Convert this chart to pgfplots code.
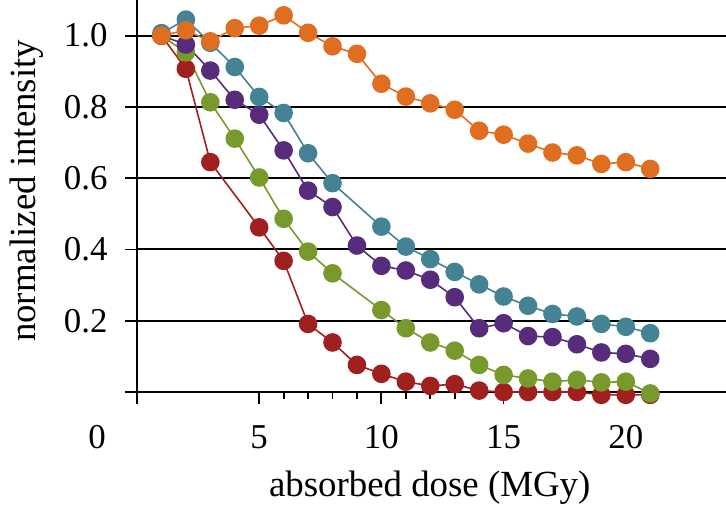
\documentclass[border=0pt]{standalone}
\usepackage{pgfplots}
\pgfplotsset{compat=1.18}
\usepackage{fontspec}
\setmainfont{Liberation Serif}
\definecolor{cred}{HTML}{A02020}
\definecolor{cgreen}{HTML}{78992C}
\definecolor{cpurple}{HTML}{582C7C}
\definecolor{cteal}{HTML}{438393}
\definecolor{corange}{HTML}{DF6E21}
\begin{document}
\begin{tikzpicture}
\begin{axis}[
  name=ax,
  scale only axis,
  width=589bp, height=392bp,
  xmin=0, xmax=24.1, ymin=0, ymax=1.1,
  axis lines=left,
  axis line style={line width=2bp, -},
  xtick={5,10,15,20},
  extra x ticks={0},
  extra x tick style={xticklabel style={xshift=-40bp}},
  minor x tick num=4,
  ytick={0,0.2,0.4,0.6,0.8,1.0},
  yticklabels={,0.2,0.4,0.6,0.8,1.0},
  /pgf/number format/assume math mode=true,
  tick align=outside,
  major tick length=12bp, minor tick length=7bp,
  tick style={line width=1.8bp, black},
  ymajorgrids,
  grid style={line width=2bp, black},
  ticklabel style={font=\fontsize{35}{42}\selectfont},
  xticklabel style={yshift=-18bp},
  yticklabel style={xshift=-14bp},
  xlabel={absorbed dose (MGy)},
  ylabel={normalized intensity},
  label style={font=\fontsize{37}{44}\selectfont},
  xlabel style={at={(axis description cs:0.497,-0.245)}, anchor=center},
  ylabel style={at={(axis description cs:-0.187,0.513)}, anchor=center},
  every axis plot/.append style={line width=1.6bp, mark=*, mark size=8.5bp},
  clip=false,
]
\addplot[cred, mark options={fill=cred, draw=cred}] coordinates {
(1,1.0) (2,0.907) (3,0.645) (5,0.462) (6,0.368) (7,0.191) (8,0.139) (9,0.076) (10,0.051) (11,0.029) (12,0.017) (13,0.022) (14,0.004) (15,0) (16,0) (17,0) (18,0) (19,-0.008) (20,-0.008) (21,-0.008)};
\addplot[cgreen, mark options={fill=cgreen, draw=cgreen}] coordinates {
(1,1.0) (2,0.953) (3,0.813) (4,0.711) (5,0.602) (6,0.486) (7,0.394) (8,0.333) (10,0.230) (11,0.179) (12,0.139) (13,0.116) (14,0.076) (15,0.048) (16,0.038) (17,0.029) (18,0.034) (19,0.027) (20,0.029) (21,-0.004)};
\addplot[cpurple, mark options={fill=cpurple, draw=cpurple}] coordinates {
(1,1.0) (2,0.975) (3,0.902) (4,0.820) (5,0.778) (6,0.678) (7,0.565) (8,0.519) (9,0.411) (10,0.354) (11,0.341) (12,0.315) (13,0.266) (14,0.179) (15,0.193) (16,0.157) (17,0.154) (18,0.134) (19,0.111) (20,0.107) (21,0.093)};
\addplot[cteal, mark options={fill=cteal, draw=cteal}] coordinates {
(1,1.007) (2,1.045) (3,0.98) (4,0.912) (5,0.828) (6,0.783) (7,0.670) (8,0.586) (10,0.464) (11,0.408) (12,0.373) (13,0.337) (14,0.302) (15,0.268) (16,0.242) (17,0.219) (18,0.212) (19,0.191) (20,0.183) (21,0.165)};
\addplot[corange, mark options={fill=corange, draw=corange}] coordinates {
(1,1.0) (2,1.015) (3,0.984) (4,1.021) (5,1.028) (6,1.057) (7,1.008) (8,0.970) (9,0.949) (10,0.865) (11,0.829) (12,0.810) (13,0.792) (14,0.733) (15,0.722) (16,0.697) (17,0.672) (18,0.664) (19,0.640) (20,0.645) (21,0.626)};
\end{axis}
\pgfresetboundingbox
\path (ax.south west) ++(-137bp,-123bp) rectangle (ax.north east);
\end{tikzpicture}
\end{document}
